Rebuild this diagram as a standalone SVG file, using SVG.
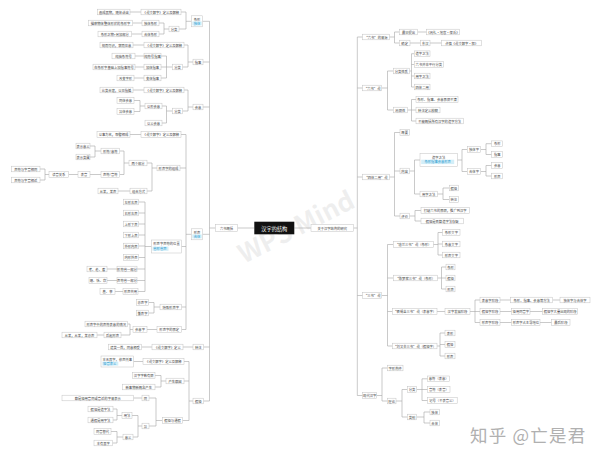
<svg xmlns="http://www.w3.org/2000/svg" width="600" height="458" viewBox="0 0 600 458">
<style>
.n rect{fill:#fff;stroke:#c2c2c2;stroke-width:.5}
.n text{font-family:"Noto Sans CJK SC","Noto Sans",sans-serif;font-size:3.3px;fill:#444;text-anchor:middle;dominant-baseline:central}
.n rect.tg{fill:#d3eef8;stroke:none}
.n text.tg{fill:#2a9ad0}
.n text.tl{text-anchor:start}
#c path{fill:none;stroke:#a6a6a6;stroke-width:.6}
.wm{font-family:"Noto Sans CJK SC","Noto Sans",sans-serif}
</style>
<rect width="600" height="458" fill="#fff"/>
<g id="watermark">
<text class="wm" x="0" y="0" transform="translate(244,264) rotate(-27)" font-size="26" font-weight="bold" fill="#cfcfcf" fill-opacity=".35">WPS Mind</text>
<text class="wm" x="470" y="442" font-size="17.5" letter-spacing="1.2" fill="#b0b0b0">知乎 @亡是君</text>
</g>
<g id="c">
<path d="M237.5 228H254.3M294.3 228H311"/>
<path d="M215.5 228H209.5M209.5 21.3V401M209.5 21.3H202.5M209.5 62H203M209.5 107H203M209.5 234.3H202.5M209.5 347H203.5M209.5 401H203.5"/>
<path d="M191.5 21.3H186M186 12V29M186 12H181M186 29H179M141 12H130M169 29H164M164 23V34M164 23H159M164 34H159M142 23H132.5M142 34H131.5"/>
<path d="M193 62H188M188 45V67M188 45H184M188 67H182.5M144 45H133M172.5 67H166.5M166.5 56V78M166.5 56H161M166.5 67H161M166.5 78H161M144 56H135M144 67H135M144 78H134"/>
<path d="M193 107H188M188 90V111M188 90H184M188 111H182.5M144 90H133M172.5 111H166.5M166.5 106V123M166.5 106H162M166.5 123H162M145 106H140M140 100.5V111.5M140 100.5H134M140 111.5H134"/>
<path d="M191.5 234.3H186M186 134.5V329.5M186 134.5H181M186 168H180M186 246.5H181.5M186 307H181.5M186 329.5H181.5M141 134.5H130M157 168H152M152 163V191M152 163H147M152 191H147M129 163H124M124 151V174.5M124 151H119.5M124 174.5H119.5M101 151H95M95 146V157M95 146H90M95 157H90M101 174.5H90M78 174.5H68.5M49 174.5H45M45 169V180M45 169H40M45 180H40M130 191H118"/>
<path d="M151.5 246.5H145M145 202V291.5M145 202H138.5M145 213H138.5M145 224H138.5M145 235H138.5M145 246H138.5M145 257.5H138.5M145 269H137M145 280.5H137M145 291.5H138M117 269H107M117 280.5H107M123 291.5H115"/>
<path d="M160 307H154M154 302.5V313M154 302.5H148.5M154 313H148.5M157 329.5H147M133 329.5H130M130 324V335M130 324H127.5M130 335H121M104 335H97"/>
<path d="M193 347H183M152 347H141.5"/>
<path d="M193 401H189M189 361.5V420.5M189 361.5H184M189 381H184M189 420.5H182.5M143 361.5H133.5M166 381H161M161 375.5V387M161 375.5H155M161 387H155M162.5 420.5H156M156 398V426M156 398H149M156 426H149M142 398H133.5M142 426H138M138 415.5V437M138 415.5H132M138 437H133M122 415.5H117M117 409V420M117 409H113M117 420H113M123 437H117M117 431.5V443M117 431.5H111M117 443H112.5"/>
<path d="M353.5 228H357.3M357.3 37V395.5M357.3 37H362.7M357.3 88H362.7M357.3 177H362.7M357.3 295.5H362.7M357.3 395.5H362.7"/>
<path d="M389.3 37H394.5M394.5 32V43M394.5 32H399.3M394.5 43H399.3M417.7 32H426.7M410 43H420.7M430 43H441.7"/>
<path d="M381.7 88H387.5M387.5 71V110M387.5 71H393.3M387.5 110H393.3M409.3 71H411.5M411.5 53.7V87M411.5 53.7H414.3M411.5 64.5H414.3M411.5 76H414.3M411.5 87H414.3M407.3 110H411.5M411.5 99.5V121M411.5 99.5H416M411.5 110H416M411.5 121H416"/>
<path d="M389.3 177H394.5M394.5 132.5V216M394.5 132.5H400M394.5 171H400M394.5 216H400M409.3 171H414.5M414.5 160V194M414.5 160H420M414.5 194H420M457.3 160H462M462 149.5V171.5M462 149.5H467.3M462 171.5H467.3M480.7 149.5H486M486 143.7V154.5M486 143.7H491.7M486 154.5H491.7M480.7 171.5H486M486 165.5V176M486 165.5H491.7M486 176H491.7M437.3 194H443M443 188V199.5M443 188H449.3M443 199.5H449.3M409.3 216H415M415 210.5V221M415 210.5H421M415 221H421"/>
<path d="M381.7 295.5H387.5M387.5 244.5V346M387.5 244.5H393.3M387.5 278H393.3M387.5 311.5H392.5M387.5 346H392.5M433.3 244.5H438M438 232.5V255M438 232.5H442.7M438 244H442.7M438 255H442.7M437.3 278H441.5M441.5 267V289M441.5 267H446M441.5 278H446M441.5 289H446M437 311.5H445M470 311.5H475M475 300V322.5M475 300H480M475 311.5H480M475 322.5H480M500 300H510.7M552.7 300H560M500 311.5H511.7M530 311.5H542.7M500 322.5H511.7M540 322.5H551.7M437 346H440M440 333V356M440 333H445M440 344.5H445M440 356H445"/>
<path d="M376.7 395.5H382M382 368V401M382 368H387.3M382 401H387.3M396 401H402M402 389.5V417M402 389.5H407.3M402 417H407.3M416.7 389.5H422M422 378.8V400.5M422 378.8H427.7M422 389.5H427.7M422 400.5H427.7M416.7 417H424M424 412V423M424 412H430M424 423H430"/>
</g>
<g id="root"><rect x="254.3" y="221.7" width="40" height="12.6" fill="#111"/><text x="274.3" y="228" font-family="Noto Sans CJK SC, sans-serif" font-size="5.2" fill="#fff" text-anchor="middle" dominant-baseline="central">汉字的结构</text></g>
<g id="L0" class="n"><rect x="215.5" y="224.5" width="22" height="7"/><text x="226.5" y="228">六书概括</text></g>
<g id="L1" class="n"><rect x="191.5" y="15.8" width="11" height="11"/><text x="197" y="19">象形</text><rect class="tg" x="192.3" y="21.4" width="9.4" height="4"/><text class="tg" x="197" y="23.4">独体</text></g>
<g id="L2" class="n"><rect x="193" y="59.2" width="10" height="5.6"/><text x="198" y="62">指事</text></g>
<g id="L3" class="n"><rect x="193" y="104.2" width="10" height="5.6"/><text x="198" y="107">会意</text></g>
<g id="L4" class="n"><rect x="191.5" y="228.8" width="11" height="11"/><text x="197" y="232">形声</text><rect class="tg" x="192.3" y="234.4" width="9.4" height="4"/><text class="tg" x="197" y="236.4">合体</text></g>
<g id="L5" class="n"><rect x="193" y="344.2" width="10.5" height="5.6"/><text x="198.25" y="347">转注</text></g>
<g id="L6" class="n"><rect x="193" y="398.2" width="10.5" height="5.6"/><text x="198.25" y="401">假借</text></g>
<g id="a1" class="n"><rect x="141" y="9.2" width="40" height="5.6"/><text x="161" y="12">《说文解字》定义及解释</text></g>
<g id="a2" class="n"><rect x="97.5" y="9.2" width="32.5" height="5.6"/><text x="113.75" y="12">画成其物，随体诘诎</text></g>
<g id="a3" class="n"><rect x="169" y="26.2" width="10" height="5.6"/><text x="174" y="29">分类</text></g>
<g id="a4" class="n"><rect x="142" y="20.2" width="17" height="5.6"/><text x="150.5" y="23">独体象形</text></g>
<g id="a5" class="n"><rect x="88.5" y="20.2" width="44" height="5.6"/><text x="110.5" y="23">描摹物体整体形状的象形字</text></g>
<g id="a6" class="n"><rect x="142" y="31.2" width="17" height="5.6"/><text x="150.5" y="34">合体象形</text></g>
<g id="a7" class="n"><rect x="98" y="31.2" width="33.5" height="5.6"/><text x="114.75" y="34">象形之物+另加部分</text></g>
<g id="b1" class="n"><rect x="144" y="42.2" width="40" height="5.6"/><text x="164" y="45">《说文解字》定义及解释</text></g>
<g id="b2" class="n"><rect x="100" y="42.2" width="33" height="5.6"/><text x="116.5" y="45">视而可识，察而见意</text></g>
<g id="b3" class="n"><rect x="172.5" y="64.2" width="10" height="5.6"/><text x="177.5" y="67">分类</text></g>
<g id="b4" class="n"><rect x="144" y="53.2" width="17" height="5.6"/><text x="152.5" y="56">纯符号指事</text></g>
<g id="b5" class="n"><rect x="112" y="53.2" width="23" height="5.6"/><text x="123.5" y="56">纯抽象符号</text></g>
<g id="b6" class="n"><rect x="144" y="64.2" width="17" height="5.6"/><text x="152.5" y="67">加体指事</text></g>
<g id="b7" class="n"><rect x="93" y="64.2" width="42" height="5.6"/><text x="114" y="67">在象形字基础上加指事符号</text></g>
<g id="b8" class="n"><rect x="144" y="75.2" width="17" height="5.6"/><text x="152.5" y="78">变体指事</text></g>
<g id="b9" class="n"><rect x="117" y="75.2" width="17" height="5.6"/><text x="125.5" y="78">改变字形</text></g>
<g id="c1" class="n"><rect x="144" y="87.2" width="40" height="5.6"/><text x="164" y="90">《说文解字》定义及解释</text></g>
<g id="c2" class="n"><rect x="100" y="87.2" width="33" height="5.6"/><text x="116.5" y="90">比类合谊，以见指撝</text></g>
<g id="c3" class="n"><rect x="172.5" y="108.2" width="10" height="5.6"/><text x="177.5" y="111">分类</text></g>
<g id="c4" class="n"><rect x="145" y="103.2" width="17" height="5.6"/><text x="153.5" y="106">以形会意</text></g>
<g id="c5" class="n"><rect x="117" y="97.7" width="17" height="5.6"/><text x="125.5" y="100.5">同体会意</text></g>
<g id="c6" class="n"><rect x="117" y="108.7" width="17" height="5.6"/><text x="125.5" y="111.5">异体会意</text></g>
<g id="c7" class="n"><rect x="145" y="120.2" width="17" height="5.6"/><text x="153.5" y="123">以义会意</text></g>
<g id="d1" class="n"><rect x="141" y="131.7" width="40" height="5.6"/><text x="161" y="134.5">《说文解字》定义及解释</text></g>
<g id="d2" class="n"><rect x="97" y="131.7" width="33" height="5.6"/><text x="113.5" y="134.5">以事为名，取譬相成</text></g>
<g id="d3" class="n"><rect x="157" y="165.2" width="23" height="5.6"/><text x="168.5" y="168">形声字的组成</text></g>
<g id="d4" class="n"><rect x="129" y="160.2" width="18" height="5.6"/><text x="138" y="163">两个部分</text></g>
<g id="d5" class="n"><rect x="101" y="148.2" width="18.5" height="5.6"/><text x="110.25" y="151">形符/意符</text></g>
<g id="d6" class="n"><rect x="76" y="143.2" width="14" height="5.6"/><text x="83" y="146">表示意义</text></g>
<g id="d7" class="n"><rect x="76" y="154.2" width="14" height="5.6"/><text x="83" y="157">表示类属</text></g>
<g id="d8" class="n"><rect x="101" y="171.7" width="18.5" height="5.6"/><text x="110.25" y="174.5">声符/音符</text></g>
<g id="d9" class="n"><rect x="78" y="171.7" width="12" height="5.6"/><text x="84" y="174.5">表音</text></g>
<g id="d10" class="n"><rect x="49" y="171.7" width="19.5" height="5.6"/><text x="58.75" y="174.5">读音关系</text></g>
<g id="d11" class="n"><rect x="11.5" y="166.2" width="28.5" height="5.6"/><text x="25.75" y="169">声符与字音相同</text></g>
<g id="d12" class="n"><rect x="11.5" y="177.2" width="28.5" height="5.6"/><text x="25.75" y="180">声符与字音相近</text></g>
<g id="d13" class="n"><rect x="130" y="188.2" width="17" height="5.6"/><text x="138.5" y="191">组合方式</text></g>
<g id="d14" class="n"><rect x="98" y="188.2" width="20" height="5.6"/><text x="108" y="191">从某，某声</text></g>
<g id="d15" class="n"><rect x="151.5" y="240" width="30" height="13"/><text x="166.5" y="243.5">形声字声符的位置</text><rect class="tg" x="152.5" y="246.6" width="16" height="4.2"/><text class="tg tl" x="153.3" y="248.7">省形省声</text></g>
<g id="d16" class="n"><rect x="123.5" y="199.2" width="15" height="5.6"/><text x="131" y="202">左形右声</text></g>
<g id="d17" class="n"><rect x="123.5" y="210.2" width="15" height="5.6"/><text x="131" y="213">右形左声</text></g>
<g id="d18" class="n"><rect x="123.5" y="221.2" width="15" height="5.6"/><text x="131" y="224">上形下声</text></g>
<g id="d19" class="n"><rect x="123.5" y="232.2" width="15" height="5.6"/><text x="131" y="235">下形上声</text></g>
<g id="d20" class="n"><rect x="123.5" y="243.2" width="15" height="5.6"/><text x="131" y="246">外形内声</text></g>
<g id="d21" class="n"><rect x="123.5" y="254.7" width="15" height="5.6"/><text x="131" y="257.5">内形外声</text></g>
<g id="d22" class="n"><rect x="117" y="266.2" width="20" height="5.6"/><text x="127" y="269">形符省一部分</text></g>
<g id="d23" class="n"><rect x="87" y="266.2" width="20" height="5.6"/><text x="97" y="269">考、老、耆</text></g>
<g id="d24" class="n"><rect x="117" y="277.7" width="20" height="5.6"/><text x="127" y="280.5">声符省一部分</text></g>
<g id="d25" class="n"><rect x="89" y="277.7" width="18" height="5.6"/><text x="98" y="280.5">珊、恬、炊</text></g>
<g id="d26" class="n"><rect x="123" y="288.7" width="15" height="5.6"/><text x="130.5" y="291.5">形声共用</text></g>
<g id="d27" class="n"><rect x="100" y="288.7" width="15" height="5.6"/><text x="107.5" y="291.5">羞、亭</text></g>
<g id="d28" class="n"><rect x="160" y="304.2" width="21.5" height="5.6"/><text x="170.75" y="307">特殊形声字</text></g>
<g id="d29" class="n"><rect x="136.5" y="299.7" width="12" height="5.6"/><text x="142.5" y="302.5">亦声字</text></g>
<g id="d30" class="n"><rect x="136.5" y="310.2" width="12" height="5.6"/><text x="142.5" y="313">兼声字</text></g>
<g id="d31" class="n"><rect x="157" y="326.7" width="24.5" height="5.6"/><text x="169.25" y="329.5">形声字的界定</text></g>
<g id="d32" class="n"><rect x="133" y="326.7" width="14" height="5.6"/><text x="140" y="329.5">会意字</text></g>
<g id="d33" class="n"><rect x="85" y="321.2" width="42.5" height="5.6"/><text x="106.25" y="324">形声字中的声符表意的情况</text></g>
<g id="d34" class="n"><rect x="104" y="332.2" width="17" height="5.6"/><text x="112.5" y="335">后起形声</text></g>
<g id="d35" class="n"><rect x="62" y="332.2" width="35" height="5.6"/><text x="79.5" y="335">从某，从某，某亦声</text></g>
<g id="e1" class="n"><rect x="152" y="344.2" width="31" height="5.6"/><text x="167.5" y="347">《说文解字》定义</text></g>
<g id="e2" class="n"><rect x="108.5" y="344.2" width="33" height="5.6"/><text x="125" y="347">建类一首，同意相受</text></g>
<g id="f1" class="n"><rect x="143" y="358.7" width="41" height="5.6"/><text x="163.5" y="361.5">《说文解字》定义及解释</text></g>
<g id="f2" class="n"><rect x="101" y="356" width="32.5" height="11"/><text x="117.25" y="359">本无其字，依声托事</text><rect class="tg" x="102.3" y="361.6" width="16" height="4"/><text class="tg tl" x="103.1" y="363.6">借音表义</text></g>
<g id="f3" class="n"><rect x="166" y="378.2" width="18" height="5.6"/><text x="175" y="381">产生原因</text></g>
<g id="f4" class="n"><rect x="132.5" y="372.7" width="22.5" height="5.6"/><text x="143.75" y="375.5">汉字字数有限</text></g>
<g id="f5" class="n"><rect x="122.5" y="384.2" width="32.5" height="5.6"/><text x="138.75" y="387">新事物新概念产生</text></g>
<g id="f6" class="n"><rect x="162.5" y="417.7" width="20" height="5.6"/><text x="172.5" y="420.5">假借与通假</text></g>
<g id="f7" class="n"><rect x="142" y="395.2" width="7" height="5.6"/><text x="145.5" y="398">同</text></g>
<g id="f8" class="n"><rect x="62" y="395.2" width="71.5" height="5.6"/><text x="97.75" y="398">都是借用音同或音近的字来表示</text></g>
<g id="f9" class="n"><rect x="142" y="423.2" width="7" height="5.6"/><text x="145.5" y="426">异</text></g>
<g id="f10" class="n"><rect x="122" y="412.7" width="10" height="5.6"/><text x="127" y="415.5">用法</text></g>
<g id="f11" class="n"><rect x="88" y="406.2" width="25" height="5.6"/><text x="100.5" y="409">假借是造字法</text></g>
<g id="f12" class="n"><rect x="88" y="417.2" width="25" height="5.6"/><text x="100.5" y="420">通假是用字法</text></g>
<g id="f13" class="n"><rect x="123" y="434.2" width="10" height="5.6"/><text x="128" y="437">意义</text></g>
<g id="f14" class="n"><rect x="94" y="428.7" width="17" height="5.6"/><text x="102.5" y="431.5">同音替代</text></g>
<g id="f15" class="n"><rect x="94" y="440.2" width="18.5" height="5.6"/><text x="103.25" y="443">本有其字</text></g>
<g id="R0" class="n"><rect x="311" y="224.5" width="42.5" height="7"/><text x="332.25" y="228">关于汉字结构的研究</text></g>
<g id="g1" class="n"><rect x="362.7" y="34.2" width="26.6" height="5.6"/><text x="376" y="37">“六书”的来源</text></g>
<g id="g2" class="n"><rect x="399.3" y="29.2" width="18.4" height="5.6"/><text x="408.5" y="32">最早提出</text></g>
<g id="g3" class="n"><rect x="426.7" y="29.2" width="32.6" height="5.6"/><text x="443" y="32">《周礼·地官·保氏》</text></g>
<g id="g4" class="n"><rect x="399.3" y="40.2" width="10.7" height="5.6"/><text x="404.65" y="43">确定</text></g>
<g id="g5" class="n"><rect x="420.7" y="40.2" width="9.3" height="5.6"/><text x="425.35" y="43">东汉</text></g>
<g id="g6" class="n"><rect x="441.7" y="40.2" width="40" height="5.6"/><text x="461.7" y="43">许慎《说文解字·叙》</text></g>
<g id="h1" class="n"><rect x="362.7" y="85.2" width="19" height="5.6"/><text x="372.2" y="88">“六书”说</text></g>
<g id="h2" class="n"><rect x="393.3" y="68.2" width="16" height="5.6"/><text x="401.3" y="71">分类性质</text></g>
<g id="h3" class="n"><rect x="414.3" y="50.9" width="15.7" height="5.6"/><text x="422.15" y="53.7">造字之法</text></g>
<g id="h4" class="n"><rect x="414.3" y="61.7" width="29" height="5.6"/><text x="428.8" y="64.5">六书并非平行分类</text></g>
<g id="h5" class="n"><rect x="414.3" y="73.2" width="15.7" height="5.6"/><text x="422.15" y="76">用字之法</text></g>
<g id="h6" class="n"><rect x="414.3" y="84.2" width="15.7" height="5.6"/><text x="422.15" y="87">四体二用</text></g>
<g id="h7" class="n"><rect x="393.3" y="107.2" width="14" height="5.6"/><text x="400.3" y="110">局限性</text></g>
<g id="h8" class="n"><rect x="416" y="96.7" width="42" height="5.6"/><text x="437" y="99.5">象形、指事、会意界限不清</text></g>
<g id="h9" class="n"><rect x="416" y="107.2" width="24" height="5.6"/><text x="428" y="110">转注定义模糊</text></g>
<g id="h10" class="n"><rect x="416" y="118.2" width="47.3" height="5.6"/><text x="439.65" y="121">不能概括所有汉字的造字方法</text></g>
<g id="i1" class="n"><rect x="362.7" y="174.2" width="26.6" height="5.6"/><text x="376" y="177">“四体二用”说</text></g>
<g id="i2" class="n"><rect x="400" y="129.7" width="9.3" height="5.6"/><text x="404.65" y="132.5">概要</text></g>
<g id="i3" class="n"><rect x="400" y="168.2" width="9.3" height="5.6"/><text x="404.65" y="171">内容</text></g>
<g id="i4" class="n"><rect x="420" y="153.3" width="37.3" height="13.4"/><text x="438.65" y="157">造字之法</text><rect class="tg" x="421.2" y="159.7" width="33" height="4.4"/><text class="tg" x="437.7" y="161.9">象形指事会意形声</text></g>
<g id="i5" class="n"><rect x="467.3" y="146.7" width="13.4" height="5.6"/><text x="474" y="149.5">独体字</text></g>
<g id="i6" class="n"><rect x="491.7" y="140.9" width="11" height="5.6"/><text x="497.2" y="143.7">象形</text></g>
<g id="i7" class="n"><rect x="491.7" y="151.7" width="11" height="5.6"/><text x="497.2" y="154.5">指事</text></g>
<g id="i8" class="n"><rect x="467.3" y="168.7" width="13.4" height="5.6"/><text x="474" y="171.5">合体字</text></g>
<g id="i9" class="n"><rect x="491.7" y="162.7" width="11" height="5.6"/><text x="497.2" y="165.5">会意</text></g>
<g id="i10" class="n"><rect x="491.7" y="173.2" width="11" height="5.6"/><text x="497.2" y="176">形声</text></g>
<g id="i11" class="n"><rect x="420" y="191.2" width="17.3" height="5.6"/><text x="428.65" y="194">用字之法</text></g>
<g id="i12" class="n"><rect x="449.3" y="185.2" width="9" height="5.6"/><text x="453.8" y="188">假借</text></g>
<g id="i13" class="n"><rect x="449.3" y="196.7" width="9" height="5.6"/><text x="453.8" y="199.5">转注</text></g>
<g id="i14" class="n"><rect x="400" y="213.2" width="9.3" height="5.6"/><text x="404.65" y="216">评价</text></g>
<g id="i15" class="n"><rect x="421" y="207.7" width="48.3" height="5.6"/><text x="445.15" y="210.5">打破六书的界限，推广到汉字</text></g>
<g id="i16" class="n"><rect x="421" y="218.2" width="42.3" height="5.6"/><text x="442.15" y="221">假借是否算造字法存疑</text></g>
<g id="j1" class="n"><rect x="362.7" y="292.7" width="19" height="5.6"/><text x="372.2" y="295.5">“三书”说</text></g>
<g id="j2" class="n"><rect x="393.3" y="241.7" width="40" height="5.6"/><text x="413.3" y="244.5">“唐兰三书”说（象形）</text></g>
<g id="j3" class="n"><rect x="442.7" y="229.7" width="17.3" height="5.6"/><text x="451.35" y="232.5">象形文字</text></g>
<g id="j4" class="n"><rect x="442.7" y="241.2" width="17.3" height="5.6"/><text x="451.35" y="244">象意文字</text></g>
<g id="j5" class="n"><rect x="442.7" y="252.2" width="17.3" height="5.6"/><text x="451.35" y="255">形声文字</text></g>
<g id="j6" class="n"><rect x="393.3" y="275.2" width="44" height="5.6"/><text x="415.3" y="278">“陈梦家三书”说（象形）</text></g>
<g id="j7" class="n"><rect x="446" y="264.2" width="9" height="5.6"/><text x="450.5" y="267">象形</text></g>
<g id="j8" class="n"><rect x="446" y="275.2" width="9" height="5.6"/><text x="450.5" y="278">假借</text></g>
<g id="j9" class="n"><rect x="446" y="286.2" width="9" height="5.6"/><text x="450.5" y="289">形声</text></g>
<g id="j10" class="n"><rect x="392.5" y="308.7" width="44.5" height="5.6"/><text x="414.75" y="311.5">“裘锡圭三书”说（表意字）</text></g>
<g id="j11" class="n"><rect x="445" y="308.7" width="25" height="5.6"/><text x="457.5" y="311.5">汉字发展阶段</text></g>
<g id="j12" class="n"><rect x="480" y="297.2" width="20" height="5.6"/><text x="490" y="300">表意字阶段</text></g>
<g id="j13" class="n"><rect x="510.7" y="297.2" width="42" height="5.6"/><text x="531.7" y="300">象形、指事、会意等方法</text></g>
<g id="j14" class="n"><rect x="560" y="297.2" width="30" height="5.6"/><text x="575" y="300">独体字与合体字</text></g>
<g id="j15" class="n"><rect x="480" y="308.7" width="20" height="5.6"/><text x="490" y="311.5">假借字阶段</text></g>
<g id="j16" class="n"><rect x="511.7" y="308.7" width="18.3" height="5.6"/><text x="520.85" y="311.5">借用同音字</text></g>
<g id="j17" class="n"><rect x="542.7" y="308.7" width="35" height="5.6"/><text x="560.2" y="311.5">假借字大量出现的阶段</text></g>
<g id="j18" class="n"><rect x="480" y="319.7" width="20" height="5.6"/><text x="490" y="322.5">形声字阶段</text></g>
<g id="j19" class="n"><rect x="511.7" y="319.7" width="28.3" height="5.6"/><text x="525.85" y="322.5">形声字占主导地位</text></g>
<g id="j20" class="n"><rect x="551.7" y="319.7" width="18.3" height="5.6"/><text x="560.85" y="322.5">最后阶段</text></g>
<g id="j21" class="n"><rect x="392.5" y="343.2" width="44.5" height="5.6"/><text x="414.75" y="346">“刘又辛三书”说（假借字）</text></g>
<g id="j22" class="n"><rect x="445" y="330.2" width="10" height="5.6"/><text x="450" y="333">表形</text></g>
<g id="j23" class="n"><rect x="445" y="341.7" width="10" height="5.6"/><text x="450" y="344.5">假借</text></g>
<g id="j24" class="n"><rect x="445" y="353.2" width="10" height="5.6"/><text x="450" y="356">形声</text></g>
<g id="k1" class="n"><rect x="362.7" y="392.7" width="14" height="5.6"/><text x="369.7" y="395.5">现代汉字</text></g>
<g id="k2" class="n"><rect x="387.3" y="365.2" width="15.7" height="5.6"/><text x="395.15" y="368">字形构件</text></g>
<g id="k3" class="n"><rect x="387.3" y="398.2" width="8.7" height="5.6"/><text x="391.65" y="401">理论</text></g>
<g id="k4" class="n"><rect x="407.3" y="386.7" width="9.4" height="5.6"/><text x="412" y="389.5">分类</text></g>
<g id="k5" class="n"><rect x="427.7" y="376" width="22" height="5.6"/><text x="438.7" y="378.8">意符（表意）</text></g>
<g id="k6" class="n"><rect x="427.7" y="386.7" width="22.3" height="5.6"/><text x="438.85" y="389.5">音符（表音）</text></g>
<g id="k7" class="n"><rect x="427.7" y="397.7" width="29.5" height="5.6"/><text x="442.45" y="400.5">记号（不表音义）</text></g>
<g id="k8" class="n"><rect x="407.3" y="414.2" width="9.4" height="5.6"/><text x="412" y="417">类别</text></g>
<g id="k9" class="n"><rect x="430" y="409.2" width="9.3" height="5.6"/><text x="434.65" y="412">独体</text></g>
<g id="k10" class="n"><rect x="430" y="420.2" width="9.3" height="5.6"/><text x="434.65" y="423">合体</text></g>
</svg>
